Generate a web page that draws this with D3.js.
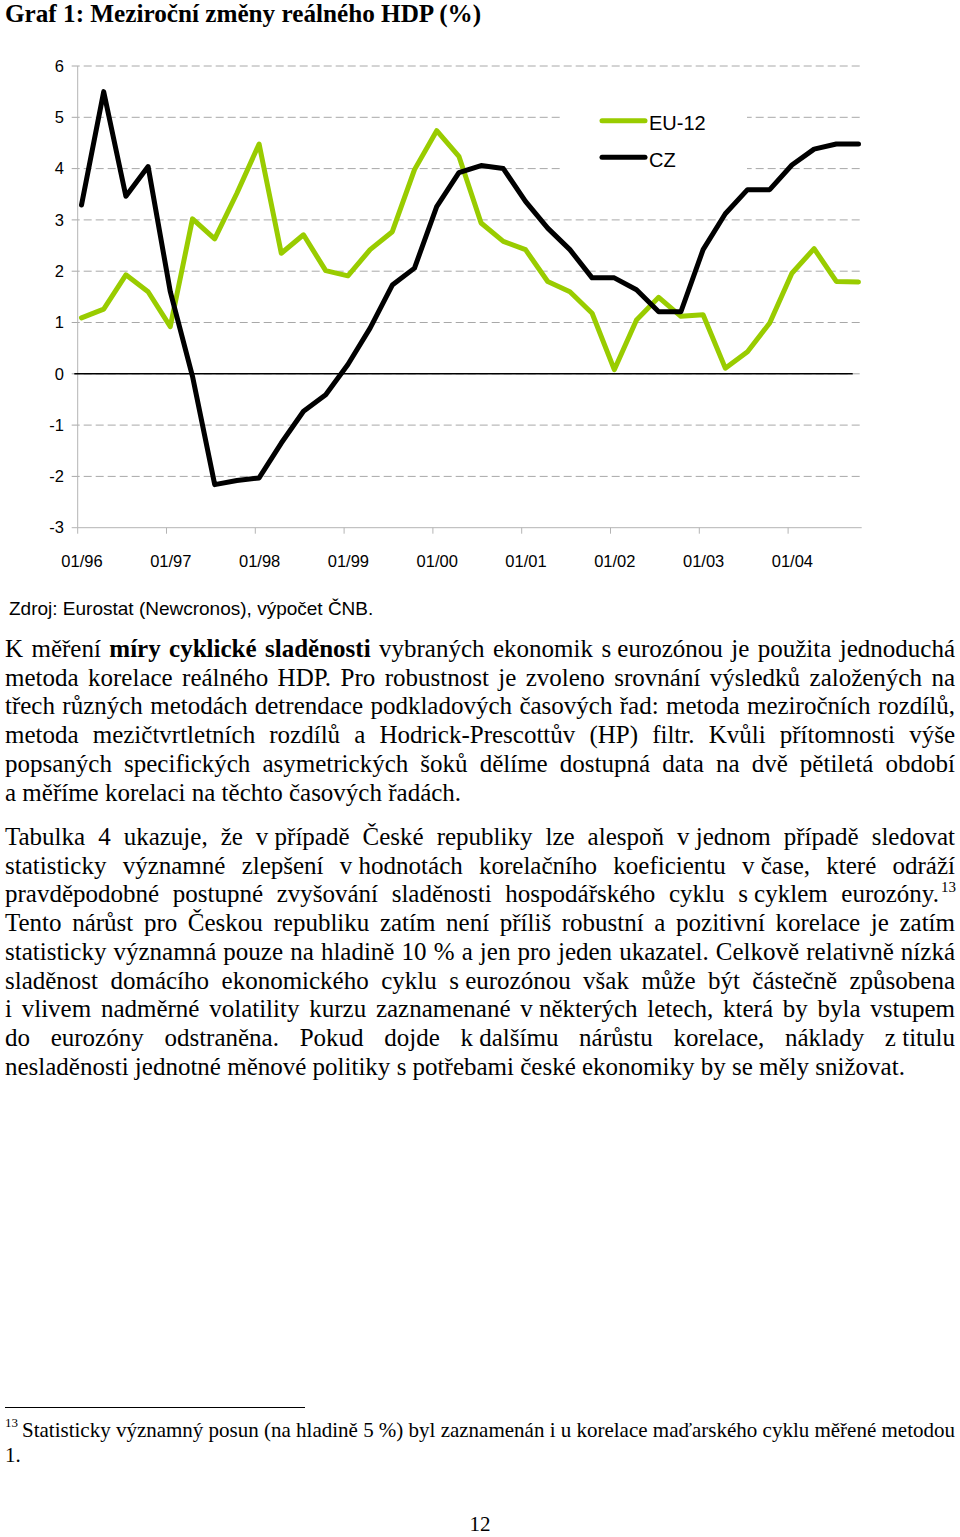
<!DOCTYPE html>
<html><head><meta charset="utf-8">
<script src="https://cdn.jsdelivr.net/npm/d3@7"></script>
<style>body{margin:0;background:#fff}svg{display:block}</style>
</head><body><svg id="c" width="960" height="1537"></svg>
<script>
// ---------- DATA ----------
const quarters = ["1996Q1","1996Q2","1996Q3","1996Q4","1997Q1","1997Q2","1997Q3","1997Q4",
  "1998Q1","1998Q2","1998Q3","1998Q4","1999Q1","1999Q2","1999Q3","1999Q4",
  "2000Q1","2000Q2","2000Q3","2000Q4","2001Q1","2001Q2","2001Q3","2001Q4",
  "2002Q1","2002Q2","2002Q3","2002Q4","2003Q1","2003Q2","2003Q3","2003Q4",
  "2004Q1","2004Q2","2004Q3","2004Q4"];
const tickQuarters = ["1996Q1","1997Q1","1998Q1","1999Q1","2000Q1","2001Q1","2002Q1","2003Q1","2004Q1"];
const tickLabels = ["01/96","01/97","01/98","01/99","01/00","01/01","01/02","01/03","01/04"];
const yTicks = [-3,-2,-1,0,1,2,3,4,5,6];
const seriesNames = ["EU-12","CZ"];
const eu12 = [1.09,1.26,1.93,1.60,0.92,3.02,2.63,3.52,4.48,2.35,2.71,2.01,
  1.91,2.42,2.77,3.98,4.74,4.24,2.94,2.58,2.42,1.80,1.60,1.18,
  0.08,1.05,1.49,1.12,1.15,0.11,0.43,0.99,1.96,2.44,1.80,1.79];
const cz = [3.29,5.50,3.46,4.04,1.60,-0.05,-2.16,-2.08,-2.03,-1.35,-0.73,-0.41,
  0.18,0.89,1.73,2.06,3.26,3.92,4.06,4.00,3.36,2.84,2.42,1.87,
  1.87,1.64,1.21,1.21,2.42,3.12,3.59,3.59,4.07,4.38,4.48,4.48];

const titleText = "Graf 1: Meziroční změny reálného HDP (%)";
const sourceText = "Zdroj: Eurostat (Newcronos), výpočet ČNB.";
const NB = "\u00a0";
const para1 = [
  [["K měření ",0],["míry cyklické sladěnosti",1],[" vybraných ekonomik s"+NB+"eurozónou je použita jednoduchá",0]],
  [["metoda korelace reálného HDP. Pro robustnost je zvoleno srovnání výsledků založených na",0]],
  [["třech různých metodách detrendace podkladových časových řad: metoda meziročních rozdílů,",0]],
  [["metoda mezičtvrtletních rozdílů a Hodrick-Prescottův (HP) filtr. Kvůli přítomnosti výše",0]],
  [["popsaných specifických asymetrických šoků dělíme dostupná data na dvě pětiletá období",0]],
  [["a měříme korelaci na těchto časových řadách.",0]]
];
const para2 = [
  [["Tabulka 4 ukazuje, že v"+NB+"případě České republiky lze alespoň v"+NB+"jednom případě sledovat",0]],
  [["statisticky významné zlepšení v"+NB+"hodnotách korelačního koeficientu v"+NB+"čase, které odráží",0]],
  [["pravděpodobné postupné zvyšování sladěnosti hospodářského cyklu s"+NB+"cyklem eurozóny.",0]],
  [["Tento nárůst pro Českou republiku zatím není příliš robustní a pozitivní korelace je zatím",0]],
  [["statisticky významná pouze na hladině 10 % a jen pro jeden ukazatel. Celkově relativně nízká",0]],
  [["sladěnost domácího ekonomického cyklu s"+NB+"eurozónou však může být částečně způsobena",0]],
  [["i vlivem nadměrné volatility kurzu zaznamenané v"+NB+"některých letech, která by byla vstupem",0]],
  [["do eurozóny odstraněna. Pokud dojde k"+NB+"dalšímu nárůstu korelace, náklady z"+NB+"titulu",0]],
  [["nesladěnosti jednotné měnové politiky s"+NB+"potřebami české ekonomiky by se měly snižovat.",0]]
];
const footnoteLines = [
  [["Statisticky významný posun (na hladině 5 %) byl zaznamenán i u korelace maďarského cyklu měřené metodou",0]],
  [["1.",0]]
];
const footnoteMark = "13";
const pageNumber = "12";

// ---------- LAYOUT ----------
const svg = d3.select("#c");
const SERIF = "'Liberation Serif','Times New Roman',serif";
const SANS = "'Liberation Sans',Arial,sans-serif";
const PL = 77.7, PR = 861.7, YT = 66, YB = 527.7;
const x = d3.scalePoint().domain(quarters).range([81.5, 858.5]);
const y = d3.scaleLinear().domain([-3, 6]).range([YB, YT]);
const colors = {"EU-12":"#99cc00","CZ":"#000000"};

svg.append("text").attr("x",5).attr("y",22.3)
  .attr("font-family",SERIF).attr("font-weight","bold").attr("font-size",25.2)
  .text(titleText);

// gridlines
const chart = svg.append("g");
chart.selectAll("line.grid").data(yTicks.filter(v => v > -3)).join("line")
  .attr("class","grid")
  .attr("x1",PL-6).attr("x2",PR)
  .attr("y1",d=>y(d)).attr("y2",d=>y(d))
  .attr("stroke","#a8a8a8").attr("stroke-width",1).attr("stroke-dasharray","8,4");
// -3 tick
chart.append("line").attr("x1",PL-6).attr("x2",PL).attr("y1",y(-3)).attr("y2",y(-3))
  .attr("stroke","#b4b4b4");
// axes lines
chart.append("line").attr("x1",PL).attr("x2",PL).attr("y1",YT).attr("y2",YB)
  .attr("stroke","#b4b4b4").attr("stroke-width",1);
chart.append("line").attr("x1",PL).attr("x2",PR).attr("y1",YB).attr("y2",YB)
  .attr("stroke","#b4b4b4").attr("stroke-width",1);
// x ticks
chart.selectAll("line.xt").data(tickQuarters).join("line").attr("class","xt")
  .attr("x1",d=>x(d)-3.8).attr("x2",d=>x(d)-3.8).attr("y1",YB).attr("y2",YB+6)
  .attr("stroke","#b4b4b4");
// zero line
chart.append("line").attr("x1",74.3).attr("x2",852.7).attr("y1",y(0)).attr("y2",y(0))
  .attr("stroke","#000").attr("stroke-width",1.4);

// y labels
const ya = chart.append("g").attr("transform",`translate(${PL},0)`)
  .call(d3.axisLeft(y).tickValues(yTicks).tickSize(0).tickPadding(13.7).tickFormat(d=>String(d)));
ya.select(".domain").remove();
ya.selectAll("text").attr("font-family",SANS).attr("font-size",16.5).attr("fill","#000");

// x labels
const xa = chart.append("g").attr("transform",`translate(0,${YB})`)
  .call(d3.axisBottom(x).tickValues(tickQuarters).tickSize(0).tickPadding(27.6)
    .tickFormat((d,i)=>tickLabels[i]));
xa.select(".domain").remove();
xa.selectAll("text").attr("font-family",SANS).attr("font-size",16.5).attr("fill","#000");

// legend background
chart.append("rect").attr("x",562).attr("y",92).attr("width",185).attr("height",88).attr("fill","#fff");

// lines
const line = d3.line().x((d,i)=>x(quarters[i])).y(d=>y(d));
[["EU-12",eu12],["CZ",cz]].forEach(([name,vals])=>{
  chart.append("path").datum(vals).attr("d",line)
    .attr("fill","none").attr("stroke",colors[name]).attr("stroke-width",5)
    .attr("stroke-linejoin","round").attr("stroke-linecap","round");
});

// legend
const legY = [120.7, 157.3];
seriesNames.forEach((n,i)=>{
  chart.append("line").attr("x1",602).attr("x2",645).attr("y1",legY[i]).attr("y2",legY[i])
    .attr("stroke",colors[n]).attr("stroke-width",5).attr("stroke-linecap","round");
  chart.append("text").attr("x",649).attr("y",legY[i]+9.5)
    .attr("font-family",SANS).attr("font-size",20).text(n);
});

svg.append("text").attr("x",9).attr("y",615).attr("font-family",SANS).attr("font-size",19)
  .text(sourceText);

// ---------- justified text ----------
const meas = svg.append("text").attr("font-family",SERIF).attr("visibility","hidden");
function wordWidth(t,bold,size){
  meas.attr("font-size",size).attr("font-weight",bold?"bold":"normal").text(t);
  return meas.node().getComputedTextLength();
}
function drawLine(segs, x0, x1, base, size, justify){
  const words = [];
  segs.forEach(([s,b])=>{
    s.split(" ").forEach(w=>{ if(w.length) words.push({t:w,b:b}); });
  });
  words.forEach(w=>w.w=wordWidth(w.t,w.b,size));
  const total = d3.sum(words,w=>w.w);
  const gap = (justify && words.length>1) ? (x1-x0-total)/(words.length-1) : size*0.25;
  const t = svg.append("text").attr("y",base).attr("font-family",SERIF).attr("font-size",size);
  let cx = x0;
  words.forEach(w=>{
    t.append("tspan").attr("x",cx).attr("font-weight",w.b?"bold":"normal").text(w.t);
    cx += w.w + gap;
  });
  return cx - gap;
}
const LH = 28.7;
para1.forEach((l,i)=>drawLine(l,5,955,657+i*LH,25,i<para1.length-1));
para2.forEach((l,i)=>{
  const x1 = i===2 ? 939 : 955;
  const end = drawLine(l,5,x1,845+i*LH,25,i<para2.length-1);
  if(i===2){
    svg.append("text").attr("x",end+2).attr("y",845+i*LH-10).attr("font-family",SERIF)
      .attr("font-size",15).text(footnoteMark);
  }
});

// footnote
svg.append("line").attr("x1",5).attr("x2",305).attr("y1",1407.5).attr("y2",1407.5)
  .attr("stroke","#000").attr("stroke-width",1);
svg.append("text").attr("x",5).attr("y",1427).attr("font-family",SERIF).attr("font-size",13)
  .text(footnoteMark);
drawLine(footnoteLines[0],22,955,1436.5,21,true);
drawLine(footnoteLines[1],5,955,1461.5,21,false);

svg.append("text").attr("x",480).attr("y",1531).attr("text-anchor","middle")
  .attr("font-family",SERIF).attr("font-size",21).text(pageNumber);
meas.remove();
</script>
</body></html>
